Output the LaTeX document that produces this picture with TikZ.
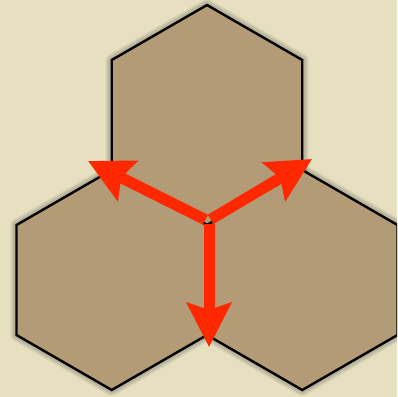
\documentclass[tikz,border=0pt]{standalone}
\usetikzlibrary{arrows.meta}
\definecolor{bgcream}{RGB}{230,224,193}
\definecolor{hextan}{RGB}{178,155,118}
\definecolor{arrowred}{RGB}{255,40,0}
\newcommand\hexpath[1]{(#1) ++(0,-110) -- ++(95.26,55) -- ++(0,110) -- ++(-95.26,55) -- ++(-95.26,-55) -- ++(0,-110) -- cycle}
\tikzset{
  hexfill/.style={fill=hextan},
  hexedge/.style={draw=black, line width=2.4pt, line join=miter},
  hexhalo/.style={draw=black, line join=round, draw opacity=0.07},
  redarrow/.style={draw=arrowred, line width=11pt, shorten <=3pt,
    -{Stealth[length=44pt, width=44pt, inset=7pt]}},
}
\begin{document}
\begin{tikzpicture}[x=1pt, y=-1pt]
\fill[bgcream] (0,0) rectangle (397,397);
\useasboundingbox (0,0) rectangle (397,397);
\clip (0,0) rectangle (397,397);
\coordinate (top) at (207,115);
\coordinate (left) at (111.74,280);
\coordinate (right) at (302.26,280);
\coordinate (o) at (208,221);
\coordinate (tipD) at (209,347);
\coordinate (tipL) at (88,161);
\coordinate (tipR) at (312,159);
\coordinate (oD) at (209,221);
% soft halo
\foreach \w in {12,9,6} {
  \draw[hexhalo, line width=\w pt] \hexpath{top};
  \draw[hexhalo, line width=\w pt] \hexpath{left};
  \draw[hexhalo, line width=\w pt] \hexpath{right};
}
\fill[hexfill] \hexpath{top};
\fill[hexfill] \hexpath{left};
\fill[hexfill] \hexpath{right};
\draw[hexedge] \hexpath{top};
\draw[hexedge] \hexpath{left};
\draw[hexedge] \hexpath{right};
\draw[redarrow] (oD) -- (tipD);
\draw[redarrow] (o) -- (tipL);
\draw[redarrow] (o) -- (tipR);
\end{tikzpicture}
\end{document}
